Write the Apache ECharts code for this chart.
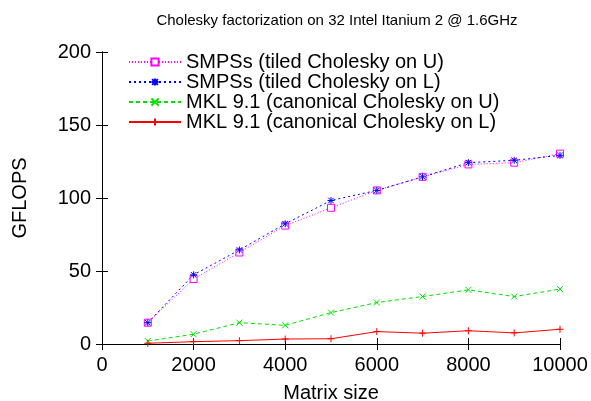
<!DOCTYPE html>
<html>
<head>
<meta charset="utf-8">
<script src="https://cdn.jsdelivr.net/npm/echarts@6/dist/echarts.min.js"></script>
<style>
  html, body { margin: 0; padding: 0; background: #fff; }
  #chart { width: 591px; height: 401px; }
</style>
</head>
<body>
<div id="chart"></div>
<script>
// matrix sizes
const sizes = [1000, 2000, 3000, 4000, 5000, 6000, 7000, 8000, 9000, 10000];
// GFLOPS per series
const smpssU = [14.6, 44.5, 62.7, 81.1, 93.3, 105.2, 114.5, 123.0, 124.2, 130.4];
const smpssL = [14.6, 47.4, 64.4, 82.3, 98.3, 105.2, 114.5, 124.2, 125.8, 129.2];
const mklU = [2.0, 6.7, 14.6, 12.8, 21.5, 28.4, 32.5, 37.1, 32.5, 37.6];
const mklL = [0.5, 1.6, 2.3, 3.4, 3.6, 8.5, 7.4, 9.1, 7.6, 10.1];
const names = [
  'SMPSs (tiled Cholesky on U)',
  'SMPSs (tiled Cholesky on L)',
  'MKL 9.1 (canonical Cholesky on U)',
  'MKL 9.1 (canonical Cholesky on L)'
];

const FONT = 'Liberation Sans, Arial, sans-serif';
const plusPath = 'path://M5,0L5,10M0,5L10,5';
const crossPath = 'path://M0,0L10,10M10,0L0,10';
const starPath = 'path://M5,0L5,10M0,5L10,5M1,1L9,9M9,1L1,9';

const pairs = arr => sizes.map((x, i) => [x, arr[i]]);

function mkSeries(name, data, color, dash, symbol, symSize, filled) {
  return {
    name: name,
    type: 'line',
    data: pairs(data),
    symbol: symbol,
    symbolSize: symSize,
    showSymbol: true,
    lineStyle: { color: color, width: 1, type: dash },
    itemStyle: { color: filled ? color : '#fff', borderColor: color, borderWidth: 1 },
    emphasis: { disabled: true },
    animation: false
  };
}

const tickStyle = { show: true, inside: true, length: 6, lineStyle: { color: '#000', width: 1 } };
const lineStyle = { show: true, lineStyle: { color: '#000', width: 1 } };

const chart = echarts.init(document.getElementById('chart'));
chart.setOption({
  backgroundColor: '#fff',
  animation: false,
  title: {
    text: 'Cholesky factorization on 32 Intel Itanium 2 @ 1.6GHz',
    left: 332, top: 8, textAlign: 'center',
    textStyle: { fontFamily: FONT, fontSize: 15, fontWeight: 'normal', color: '#000' }
  },
  legend: {
    orient: 'vertical',
    left: 123, top: 47,
    itemWidth: 52, itemHeight: 9, itemGap: 0,
    textStyle: { fontFamily: FONT, fontSize: 20, color: '#000' },
    data: names
  },
  grid: { left: 102, right: 31, top: 52, bottom: 57, outerBoundsMode: 'none' },
  xAxis: [{
    type: 'value', min: 0, max: 10000, interval: 2000,
    name: 'Matrix size', nameLocation: 'middle', nameGap: 39,
    nameTextStyle: { fontFamily: FONT, fontSize: 20, color: '#000' },
    axisLine: lineStyle,
    axisTick: tickStyle,
    axisLabel: { fontFamily: FONT, fontSize: 20, color: '#000', margin: 11, formatter: v => String(v) },
    splitLine: { show: false }
  }, {
    type: 'value', min: 0, max: 10000, interval: 2000, position: 'top',
    axisLine: lineStyle,
    axisTick: tickStyle,
    axisLabel: { show: false },
    splitLine: { show: false }
  }],
  yAxis: [{
    type: 'value', min: 0, max: 200, interval: 50,
    name: 'GFLOPS', nameLocation: 'middle', nameGap: 72,
    nameTextStyle: { fontFamily: FONT, fontSize: 20, color: '#000' },
    axisLine: lineStyle,
    axisTick: tickStyle,
    axisLabel: { fontFamily: FONT, fontSize: 20, color: '#000', margin: 11 },
    splitLine: { show: false }
  }, {
    type: 'value', min: 0, max: 200, interval: 50, position: 'right',
    axisLine: lineStyle,
    axisTick: tickStyle,
    axisLabel: { show: false },
    splitLine: { show: false }
  }],
  series: [
    mkSeries(names[0], smpssU, '#ff00ff', [1, 2], 'rect', 7, false),
    mkSeries(names[1], smpssL, '#0000ff', [2, 3], starPath, 7, true),
    mkSeries(names[2], mklU, '#00e000', [4, 3], crossPath, 6, true),
    mkSeries(names[3], mklL, '#ff0000', 'solid', plusPath, 7, true)
  ]
});
</script>
</body>
</html>
